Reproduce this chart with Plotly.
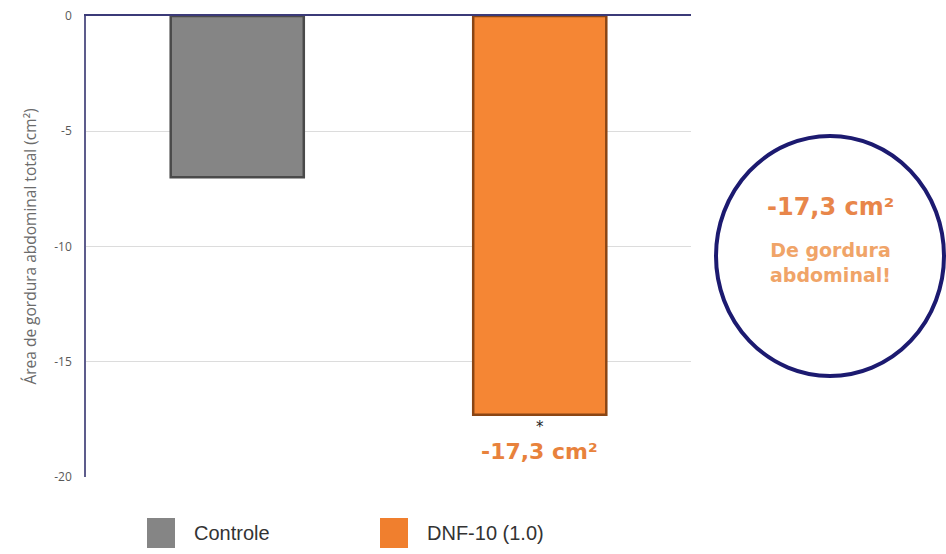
import plotly.graph_objects as go

categories = ["Controle", "DNF-10 (1.0)"]
values = [-7.0, -17.3]
bar_colors = ["#858585", "#f58634"]
edge_colors = ["#4a4a4a", "#8a4514"]
legend_colors = ["#858585", "#f07f2e"]
y_ticks = [0, -5, -10, -15, -20]
y_title = "Área de gordura abdominal total (cm²)"
highlight_value = -17.3
circle_lines = ["De gordura", "abdominal!"]

def fmt(v):
    return f"{v:.1f}".replace(".", ",") + " cm²"

fig = go.Figure()
fig.add_trace(go.Bar(
    x=categories, y=values, width=0.44,
    marker=dict(color=bar_colors, line=dict(color=edge_colors, width=2.5)),
    showlegend=False, hoverinfo="skip",
))

L, R, T, B = 86, 255, 16, 77
W, H = 946, 554
pw, ph = W - L - R, H - T - B
def px(x): return (x - L) / pw
def py(y): return (H - B - y) / ph

fig.update_layout(
    width=W, height=H,
    margin=dict(l=L, r=R, t=T, b=B, autoexpand=False),
    plot_bgcolor="white", paper_bgcolor="white",
    font=dict(family="Open Sans, Liberation Sans, sans-serif", color="#595959"),
    bargap=0.56,
    xaxis=dict(showticklabels=False, showgrid=False, zeroline=False, automargin=False,
               showline=True, linecolor="#3b3a78", linewidth=1.5, side="top",
               ticks="", range=[-0.5, 1.5]),
    yaxis=dict(range=[-20, 0], tickvals=y_ticks, ticktext=[str(t) for t in y_ticks],
               showgrid=True, gridcolor="#dcdcdc", gridwidth=1, automargin=False,
               zeroline=False, showline=True, linecolor="#5d5c8c", linewidth=1.5,
               tickfont=dict(size=12, color="#595959"), ticks="", ticklen=0,
               ticklabelstandoff=10,
               title=dict(text=y_title, font=dict(size=15.5, color="#6b6b6b"), standoff=14)),
)

# star + value label under highlighted bar
fig.add_annotation(x=categories[1], y=values[1], text="*", showarrow=False,
                   yshift=-12, yanchor="middle", xanchor="center",
                   font=dict(size=15, color="#222222", family="DejaVu Sans"))
fig.add_annotation(x=categories[1], y=values[1], text="<b>" + fmt(values[1]) + "</b>",
                   showarrow=False, yshift=-37, yanchor="middle", xanchor="center",
                   font=dict(size=22, color="#e8823c", family="DejaVu Sans"))

# circle callout
fig.add_shape(type="circle", xref="paper", yref="paper",
              x0=px(716), x1=px(944), y0=py(376), y1=py(136),
              line=dict(color="#1c1a70", width=4))
cx = px(831)
fig.add_annotation(xref="paper", yref="paper", x=cx, y=py(207),
                   xanchor="center", yanchor="middle",
                   text="<b>" + fmt(highlight_value) + "</b>",
                   showarrow=False, font=dict(size=24, color="#e8864a", family="DejaVu Sans"))
fig.add_annotation(xref="paper", yref="paper", x=cx, y=py(262),
                   xanchor="center", yanchor="middle",
                   text="<b>" + "<br>".join(circle_lines) + "</b>",
                   showarrow=False, font=dict(size=19, color="#f0a468", family="DejaVu Sans"))

# custom legend
legend_x = [147, 380]
for i, cat in enumerate(categories):
    x0 = legend_x[i]
    fig.add_shape(type="rect", xref="paper", yref="paper",
                  x0=px(x0), x1=px(x0 + 28), y0=py(548), y1=py(518),
                  fillcolor=legend_colors[i], line=dict(width=0))
    fig.add_annotation(xref="paper", yref="paper", x=px(x0 + 45), y=py(533),
                       xanchor="left", yanchor="middle", text=cat, showarrow=False,
                       font=dict(size=20, color="#333333", family="Liberation Sans, Arial"))

fig.write_html("out.html", config={"displayModeBar": False},
               post_script="document.body.style.margin='0';document.body.style.overflow='hidden';")
